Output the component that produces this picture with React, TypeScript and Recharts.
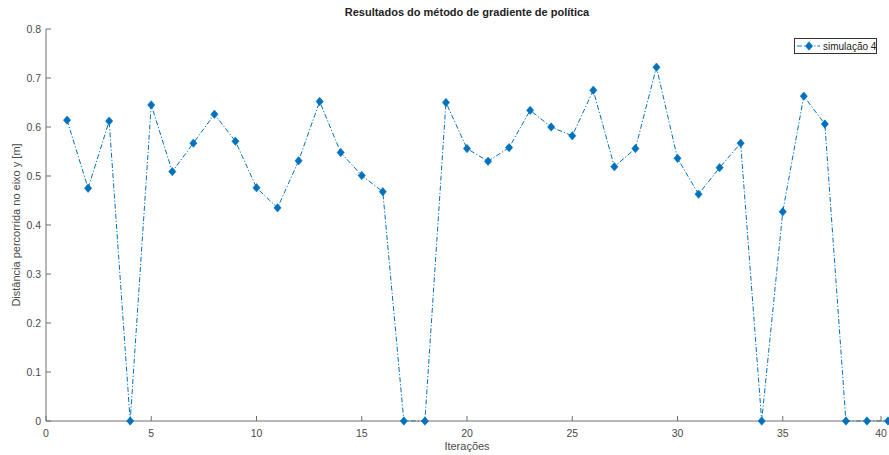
import { LineChart, Line, XAxis, YAxis, Legend } from "recharts";

const iterations = [
  1, 2, 3, 4, 5, 6, 7, 8, 9, 10, 11, 12, 13, 14, 15, 16, 17, 18, 19, 20,
  21, 22, 23, 24, 25, 26, 27, 28, 29, 30, 31, 32, 33, 34, 35, 36, 37, 38, 39, 40,
];
const distances = [
  0.614, 0.475, 0.612, 0, 0.645, 0.509, 0.567, 0.626, 0.571, 0.476,
  0.435, 0.531, 0.652, 0.548, 0.501, 0.468, 0, 0, 0.65, 0.556,
  0.53, 0.558, 0.634, 0.6, 0.582, 0.675, 0.519, 0.556, 0.722, 0.536,
  0.463, 0.517, 0.567, 0, 0.427, 0.663, 0.606, 0, 0, 0,
];
const xTicks = [0, 5, 10, 15, 20, 25, 30, 35, 40];
const yTicks = [0, 0.1, 0.2, 0.3, 0.4, 0.5, 0.6, 0.7, 0.8];

const seriesName = "simulação 4";
const title = "Resultados do método de gradiente de política";
const xLabel = "Iterações";
const yLabel = "Distância percorrida no eixo y [m]";

const data = iterations.map((it, i) => ({ iter: it, dist: distances[i] }));

const BLUE = "#0072BD";
const AXIS = "#6e6e6e";
const TEXT = "#4a4a4a";
const FONT = "'Liberation Sans', Arial, sans-serif";
const DASH = "5 2 1.2 2";

const Diamond = (props: any) => {
  const { cx, cy } = props;
  if (cx == null || cy == null) return null;
  return (
    <polygon
      points={`${cx},${cy - 4.2} ${cx + 3.6},${cy} ${cx},${cy + 4.2} ${cx - 3.6},${cy}`}
      fill={BLUE}
      stroke={BLUE}
      strokeWidth={0.6}
    />
  );
};

const BottomTick = (props: any) => {
  const { x, y, payload } = props;
  return (
    <g>
      <line x1={x} y1={y} x2={x} y2={y - 5} stroke={AXIS} strokeWidth={1} />
      <text x={x} y={y + 16} textAnchor="middle" fill={TEXT} fontSize={10.5} fontFamily={FONT}>
        {payload.value}
      </text>
    </g>
  );
};

const TopTick = (props: any) => {
  const { x, y } = props;
  return <line x1={x} y1={y} x2={x} y2={y + 5} stroke={AXIS} strokeWidth={1} />;
};

const LeftTick = (props: any) => {
  const { x, y, payload } = props;
  return (
    <g>
      <line x1={x} y1={y} x2={x + 5} y2={y} stroke={AXIS} strokeWidth={1} />
      <text x={x - 5} y={y} dy="0.35em" textAnchor="end" fill={TEXT} fontSize={10.5} fontFamily={FONT}>
        {payload.value === 0 ? "0" : payload.value.toFixed(1)}
      </text>
    </g>
  );
};

const RightTick = (props: any) => {
  const { x, y } = props;
  return <line x1={x} y1={y} x2={x - 5} y2={y} stroke={AXIS} strokeWidth={1} />;
};

const LegendBox = () => (
  <div
    style={{
      border: "1px solid #333",
      background: "#fff",
      width: 83,
      height: 16,
      boxSizing: "border-box",
      display: "flex",
      alignItems: "center",
      whiteSpace: "nowrap",
      fontFamily: FONT,
      fontSize: 10,
      color: "#222",
      overflow: "visible",
    }}
  >
    <svg width={27} height={14} style={{ flex: "none" }}>
      <line x1={2} y1={7} x2={25} y2={7} stroke={BLUE} strokeWidth={1} strokeDasharray={DASH} />
      <Diamond cx={14} cy={7} />
    </svg>
    <span style={{ marginLeft: 1 }}>{seriesName}</span>
  </div>
);

export default function App() {
  return (
    <div style={{ position: "absolute", left: 0, top: 0, width: 889, height: 455, background: "#fff" }}>
      <div
        style={{
          position: "absolute",
          left: 46,
          width: 842,
          top: 6,
          textAlign: "center",
          fontFamily: FONT,
          fontWeight: "bold",
          fontSize: 11,
          color: "#222",
        }}
      >
        {title}
      </div>
      <LineChart
        width={889}
        height={455}
        data={data}
        margin={{ top: 29, right: 1, left: 0, bottom: 0 }}
      >
        <XAxis
          xAxisId="bottom"
          dataKey="iter"
          type="number"
          domain={[0, 40]}
          ticks={xTicks}
          height={34}
          tickSize={0}
          tickMargin={0}
          tick={<BottomTick />}
          axisLine={{ stroke: AXIS }}
          label={{
            content: (p: any) => (
              <text
                x={p.viewBox.x + p.viewBox.width / 2}
                y={p.viewBox.y + 29}
                textAnchor="middle"
                fill={TEXT}
                fontSize={11}
                fontFamily={FONT}
              >
                {xLabel}
              </text>
            ),
          }}
        />
        <XAxis
          xAxisId="top"
          orientation="top"
          dataKey="iter"
          type="number"
          domain={[0, 40]}
          ticks={xTicks}
          height={0}
          tickSize={0}
          tickMargin={0}
          tick={<TopTick />}
          axisLine={{ stroke: AXIS }}
        />
        <YAxis
          yAxisId="left"
          type="number"
          domain={[0, 0.8]}
          ticks={yTicks}
          width={46}
          tickSize={0}
          tickMargin={0}
          tick={<LeftTick />}
          axisLine={{ stroke: AXIS }}
          label={{
            content: (p: any) => {
              const cx = 16;
              const cy = p.viewBox.y + p.viewBox.height / 2;
              return (
                <text
                  x={cx}
                  y={cy}
                  dy="0.35em"
                  transform={`rotate(-90 ${cx} ${cy})`}
                  textAnchor="middle"
                  fill={TEXT}
                  fontSize={11}
                  fontFamily={FONT}
                >
                  {yLabel}
                </text>
              );
            },
          }}
        />
        <YAxis
          yAxisId="right"
          orientation="right"
          type="number"
          domain={[0, 0.8]}
          ticks={yTicks}
          width={0}
          tickSize={0}
          tickMargin={0}
          tick={<RightTick />}
          axisLine={{ stroke: AXIS }}
        />
        <Legend
          layout="vertical"
          align="center"
          verticalAlign="middle"
          wrapperStyle={{ position: "absolute", top: 38, left: 794, width: 83 }}
          content={() => <LegendBox />}
        />
        <Line
          xAxisId="bottom"
          yAxisId="left"
          name={seriesName}
          type="linear"
          dataKey="dist"
          stroke={BLUE}
          strokeWidth={1}
          strokeDasharray={DASH}
          dot={<Diamond />}
          activeDot={false}
          isAnimationActive={false}
        />
      </LineChart>
    </div>
  );
}
